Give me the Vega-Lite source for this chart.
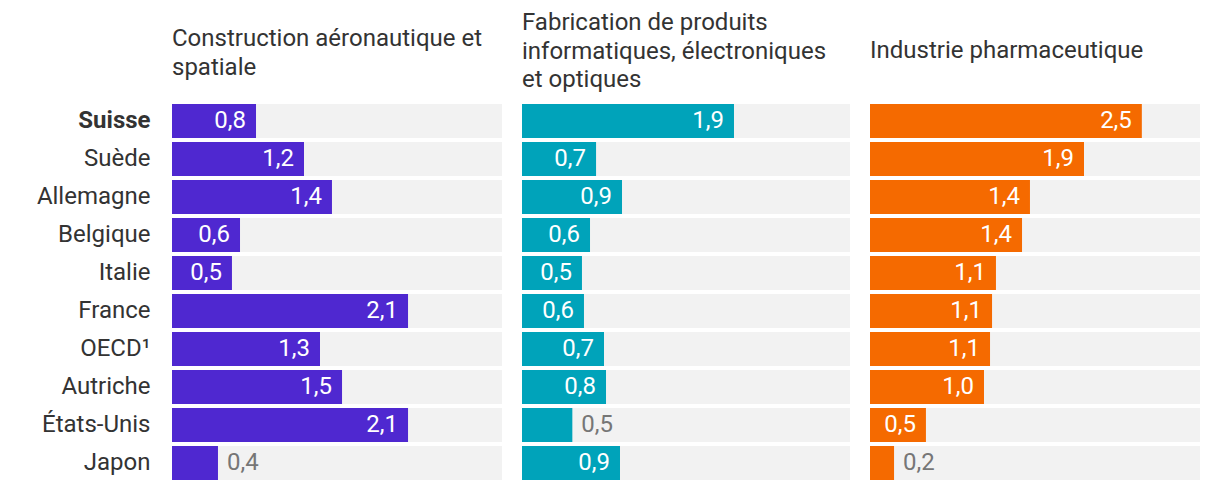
{
  "$schema": "https://vega.github.io/schema/vega-lite/v6.json",
  "config": {
    "padding": {"left": 5, "top": 11, "right": 5, "bottom": 5},
    "view": {"stroke": null},
    "font": "Roboto",
    "concat": {"spacing": 20},
    "title": {"anchor": "start", "font": "Roboto", "fontSize": 24, "fontWeight": "normal", "color": "#333333", "lineHeight": 28.5, "frame": "group"}
  },
  "bounds": "flush",
  "data": {
    "values": [
      {"pays": "Suisse", "secteur": "aero", "valeur": 0.751, "label": "0,8"},
      {"pays": "Suède", "secteur": "aero", "valeur": 1.18, "label": "1,2"},
      {"pays": "Allemagne", "secteur": "aero", "valeur": 1.43, "label": "1,4"},
      {"pays": "Belgique", "secteur": "aero", "valeur": 0.608, "label": "0,6"},
      {"pays": "Italie", "secteur": "aero", "valeur": 0.536, "label": "0,5"},
      {"pays": "France", "secteur": "aero", "valeur": 2.11, "label": "2,1"},
      {"pays": "OECD¹", "secteur": "aero", "valeur": 1.323, "label": "1,3"},
      {"pays": "Autriche", "secteur": "aero", "valeur": 1.52, "label": "1,5"},
      {"pays": "États-Unis", "secteur": "aero", "valeur": 2.11, "label": "2,1"},
      {"pays": "Japon", "secteur": "aero", "valeur": 0.411, "label": "0,4"},
      {"pays": "Suisse", "secteur": "info", "valeur": 1.895, "label": "1,9"},
      {"pays": "Suède", "secteur": "info", "valeur": 0.662, "label": "0,7"},
      {"pays": "Allemagne", "secteur": "info", "valeur": 0.894, "label": "0,9"},
      {"pays": "Belgique", "secteur": "info", "valeur": 0.608, "label": "0,6"},
      {"pays": "Italie", "secteur": "info", "valeur": 0.536, "label": "0,5"},
      {"pays": "France", "secteur": "info", "valeur": 0.554, "label": "0,6"},
      {"pays": "OECD¹", "secteur": "info", "valeur": 0.733, "label": "0,7"},
      {"pays": "Autriche", "secteur": "info", "valeur": 0.751, "label": "0,8"},
      {"pays": "États-Unis", "secteur": "info", "valeur": 0.45, "label": "0,5"},
      {"pays": "Japon", "secteur": "info", "valeur": 0.876, "label": "0,9"},
      {"pays": "Suisse", "secteur": "pharma", "valeur": 2.43, "label": "2,5"},
      {"pays": "Suède", "secteur": "pharma", "valeur": 1.913, "label": "1,9"},
      {"pays": "Allemagne", "secteur": "pharma", "valeur": 1.43, "label": "1,4"},
      {"pays": "Belgique", "secteur": "pharma", "valeur": 1.359, "label": "1,4"},
      {"pays": "Italie", "secteur": "pharma", "valeur": 1.126, "label": "1,1"},
      {"pays": "France", "secteur": "pharma", "valeur": 1.091, "label": "1,1"},
      {"pays": "OECD¹", "secteur": "pharma", "valeur": 1.073, "label": "1,1"},
      {"pays": "Autriche", "secteur": "pharma", "valeur": 1.019, "label": "1,0"},
      {"pays": "États-Unis", "secteur": "pharma", "valeur": 0.5, "label": "0,5"},
      {"pays": "Japon", "secteur": "pharma", "valeur": 0.215, "label": "0,2"}
    ]
  },
  "hconcat": [
    {
      "title": {"text": ["Construction aéronautique et", "spatiale"], "offset": 22.5},
      "width": 330,
      "height": 380,
      "transform": [{"filter": "datum.secteur == 'aero'"}],
      "encoding": {
        "y": {
          "field": "pays",
          "type": "nominal",
          "sort": ["Suisse", "Suède", "Allemagne", "Belgique", "Italie", "France", "OECD¹", "Autriche", "États-Unis", "Japon"],
          "scale": {"paddingInner": 0.1053, "paddingOuter": 0.0526},
          "axis": {
            "title": null,
            "domain": false,
            "ticks": false,
            "labelFont": "Roboto",
            "labelFontSize": 24,
            "labelColor": "#333333",
            "labelPadding": 22,
            "minExtent": 167,
            "maxExtent": 167,
            "labelFontWeight": {"condition": {"test": "datum.value === 'Suisse'", "value": "bold"}, "value": "normal"}
          }
        }
      },
      "layer": [
        {
          "mark": {"type": "bar", "color": "#f2f2f2"},
          "encoding": {"x": {"datum": 2.95, "type": "quantitative", "scale": {"domain": [0, 2.95], "nice": false}, "axis": null}}
        },
        {
          "mark": {"type": "bar", "color": "#4f28d0"},
          "encoding": {"x": {"field": "valeur", "type": "quantitative", "axis": null}}
        },
        {
          "transform": [{"filter": "datum.valeur >= 0.48"}],
          "mark": {"type": "text", "align": "right", "baseline": "middle", "dx": -10, "color": "#ffffff", "fontSize": 24, "font": "Roboto"},
          "encoding": {"x": {"field": "valeur", "type": "quantitative"}, "text": {"field": "label"}}
        },
        {
          "transform": [{"filter": "datum.valeur < 0.48"}],
          "mark": {"type": "text", "align": "left", "baseline": "middle", "dx": 9, "color": "#767676", "fontSize": 24, "font": "Roboto"},
          "encoding": {"x": {"field": "valeur", "type": "quantitative"}, "text": {"field": "label"}}
        }
      ]
    },
    {
      "title": {"text": ["Fabrication de produits", "informatiques, électroniques", "et optiques"], "offset": 10},
      "width": 328,
      "height": 380,
      "transform": [{"filter": "datum.secteur == 'info'"}],
      "encoding": {
        "y": {
          "field": "pays",
          "type": "nominal",
          "sort": ["Suisse", "Suède", "Allemagne", "Belgique", "Italie", "France", "OECD¹", "Autriche", "États-Unis", "Japon"],
          "scale": {"paddingInner": 0.1053, "paddingOuter": 0.0526},
          "axis": null
        }
      },
      "layer": [
        {
          "mark": {"type": "bar", "color": "#f2f2f2"},
          "encoding": {"x": {"datum": 2.932, "type": "quantitative", "scale": {"domain": [0, 2.932], "nice": false}, "axis": null}}
        },
        {
          "mark": {"type": "bar", "color": "#00a3ba"},
          "encoding": {"x": {"field": "valeur", "type": "quantitative", "axis": null}}
        },
        {
          "transform": [{"filter": "datum.valeur >= 0.48"}],
          "mark": {"type": "text", "align": "right", "baseline": "middle", "dx": -10, "color": "#ffffff", "fontSize": 24, "font": "Roboto"},
          "encoding": {"x": {"field": "valeur", "type": "quantitative"}, "text": {"field": "label"}}
        },
        {
          "transform": [{"filter": "datum.valeur < 0.48"}],
          "mark": {"type": "text", "align": "left", "baseline": "middle", "dx": 9, "color": "#767676", "fontSize": 24, "font": "Roboto"},
          "encoding": {"x": {"field": "valeur", "type": "quantitative"}, "text": {"field": "label"}}
        }
      ]
    },
    {
      "title": {"text": "Industrie pharmaceutique", "offset": 39},
      "width": 330,
      "height": 380,
      "transform": [{"filter": "datum.secteur == 'pharma'"}],
      "encoding": {
        "y": {
          "field": "pays",
          "type": "nominal",
          "sort": ["Suisse", "Suède", "Allemagne", "Belgique", "Italie", "France", "OECD¹", "Autriche", "États-Unis", "Japon"],
          "scale": {"paddingInner": 0.1053, "paddingOuter": 0.0526},
          "axis": null
        }
      },
      "layer": [
        {
          "mark": {"type": "bar", "color": "#f2f2f2"},
          "encoding": {"x": {"datum": 2.95, "type": "quantitative", "scale": {"domain": [0, 2.95], "nice": false}, "axis": null}}
        },
        {
          "mark": {"type": "bar", "color": "#f56a00"},
          "encoding": {"x": {"field": "valeur", "type": "quantitative", "axis": null}}
        },
        {
          "transform": [{"filter": "datum.valeur >= 0.48"}],
          "mark": {"type": "text", "align": "right", "baseline": "middle", "dx": -10, "color": "#ffffff", "fontSize": 24, "font": "Roboto"},
          "encoding": {"x": {"field": "valeur", "type": "quantitative"}, "text": {"field": "label"}}
        },
        {
          "transform": [{"filter": "datum.valeur < 0.48"}],
          "mark": {"type": "text", "align": "left", "baseline": "middle", "dx": 9, "color": "#767676", "fontSize": 24, "font": "Roboto"},
          "encoding": {"x": {"field": "valeur", "type": "quantitative"}, "text": {"field": "label"}}
        }
      ]
    }
  ]
}
